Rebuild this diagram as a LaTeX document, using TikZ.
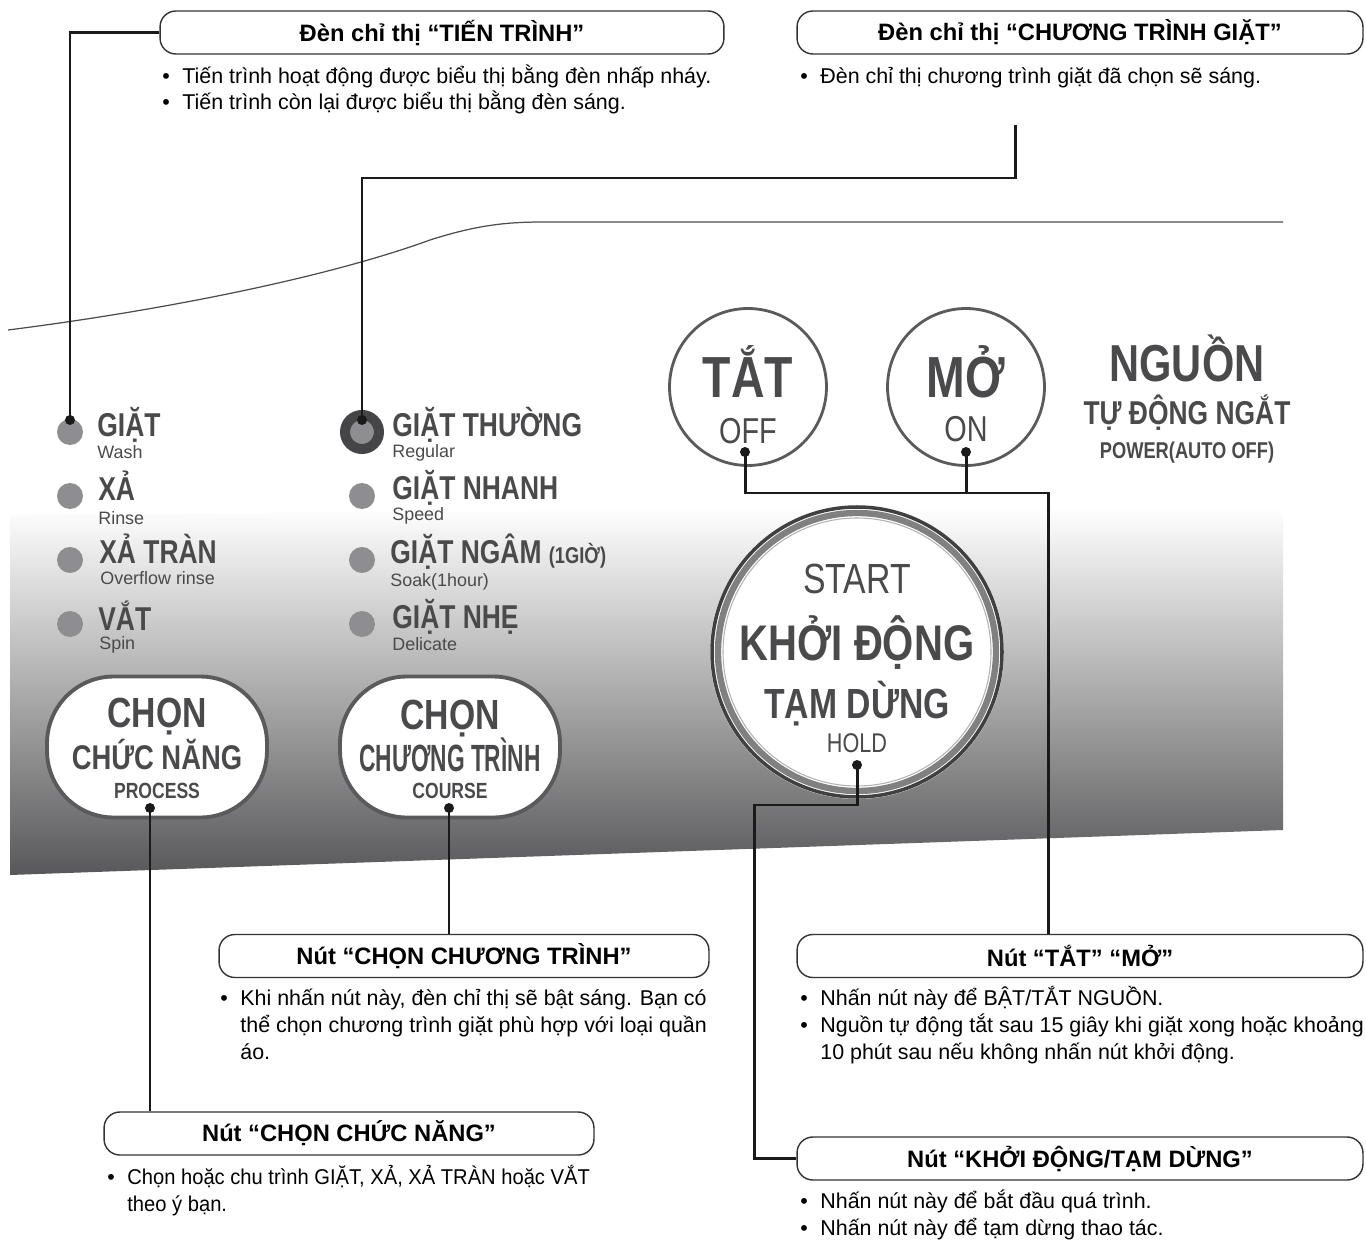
\documentclass[tikz,border=0pt]{standalone}
\usepackage{fontspec}
\setmainfont{Liberation Sans}
\newfontfamily\panelfont[FakeStretch=0.8]{Liberation Sans}
\newfontfamily\narrowfont[FakeStretch=0.94]{Liberation Sans}

\definecolor{paneltext}{HTML}{4A4A4C}
\definecolor{ledgray}{HTML}{8E8E90}
\definecolor{ringdark}{HTML}{454547}
\definecolor{panelbot}{HTML}{58585A}
\definecolor{btnedge}{HTML}{5A5A5C}
\definecolor{wirecol}{HTML}{1A1A1A}

\pgfdeclareverticalshading{panelshade}{100bp}{color(0bp)=(panelbot); color(25bp)=(panelbot);
  color(71.8bp)=(white); color(100bp)=(white)}

\newcommand\bul{\makebox[11.4pt][l]{\textbullet}}
\newcommand\bulgap{\hspace*{11.4pt}}

\tikzset{
  wire/.style={draw=wirecol, line width=1.7pt},
  notebox/.style={draw=black!80, fill=white, line width=0.8pt, rounded corners=9pt,
    minimum width=#1, minimum height=0.86cm, inner sep=0pt,
    font=\bfseries\fontsize{13.5}{15}\selectfont},
  notetext/.style={anchor=base west, align=left, inner sep=0pt,
    font=\fontsize{12.2}{15.1}\selectfont},
  led/.style={circle, fill=ledgray, minimum size=0.52cm, inner sep=0pt},
  ledsel/.style={circle, draw=ringdark, line width=5.7pt, fill=ledgray,
    minimum size=0.68cm, inner sep=0pt},
  ledmain/.style={anchor=base west, inner sep=0pt, text=paneltext,
    font=\panelfont\bfseries\fontsize{18.8}{20}\selectfont},
  ledsub/.style={anchor=base west, inner sep=0pt, text=paneltext,
    font=\fontsize{10.2}{12}\selectfont},
  selbtn/.style={draw=btnedge, fill=white, line width=2.2pt, rounded corners=38pt,
    minimum width=4.4cm, minimum height=2.82cm},
  pwrbtn/.style={circle, draw=btnedge, fill=white, line width=1.6pt, minimum size=3.14cm},
  ptxt/.style={anchor=base, inner sep=0pt, text=paneltext,
    font=\panelfont\bfseries\fontsize{#1}{#1}\selectfont},
  ptxtr/.style={anchor=base, inner sep=0pt, text=paneltext,
    font=\panelfont\fontsize{#1}{#1}\selectfont},
}

\begin{document}
\begin{tikzpicture}[x=0.02cm, y=-0.02cm]
\useasboundingbox (0,0) rectangle (1366,1240);

% mặt bảng điều khiển
\shade[shading=panelshade] (10,515) -- (935,507) -- (935,482) -- (1283,482)
  -- (1283,830) -- (10,875) -- cycle;
\draw[draw=black!70, line width=0.7pt] (8,330) .. controls (150,312) and (320,280) .. (430,240)
  .. controls (480,224) and (510,222) .. (545,222) -- (1283,222);

% đèn chỉ thị tiến trình
\node[led] (ledWash) at (70,432) {};
\node[led] (ledRinse) at (70,496) {};
\node[led] (ledOverflow) at (70,560) {};
\node[led] (ledSpin) at (70,624) {};
\node[ledmain] (lblWash) at (97,436) {GIẶT};
\node[ledsub] (subWash) at (97,458) {Wash};
\node[ledmain] (lblRinse) at (98,500) {XẢ};
\node[ledsub] (subRinse) at (98,524) {Rinse};
\node[ledmain] (lblOverflow) at (99,563) {XẢ TRÀN};
\node[ledsub] (subOverflow) at (100,584) {Overflow rinse};
\node[ledmain] (lblSpin) at (98,630) {VẮT};
\node[ledsub] (subSpin) at (99,649) {Spin};

% đèn chỉ thị chương trình giặt
\node[ledsel] (ledRegular) at (362,432) {};
\node[led] (ledSpeed) at (362,496) {};
\node[led] (ledSoak) at (362,560) {};
\node[led] (ledDelicate) at (362,624) {};
\node[ledmain] (lblRegular) at (392,436) {GIẶT THƯỜNG};
\node[ledsub] (subRegular) at (392,457) {Regular};
\node[ledmain] (lblSpeed) at (392,499) {GIẶT NHANH};
\node[ledsub] (subSpeed) at (392,520) {Speed};
\node[ledmain] (lblSoak) at (390,563) {GIẶT NGÂM {\fontsize{13}{13}\selectfont(1GIỜ)}};
\node[ledsub] (subSoak) at (390,586) {Soak(1hour)};
\node[ledmain] (lblDelicate) at (392,628) {GIẶT NHẸ};
\node[ledsub] (subDelicate) at (392,650) {Delicate};

% nút chọn
\node[selbtn] (btnProcess) at (157,747) {};
\node[ptxt=24] (txtProcess1) at (157,727) {CHỌN};
\node[ptxt=19.5] (txtProcess2) at (157,769) {CHỨC NĂNG};
\node[ptxt=12.5] (txtProcess3) at (157,798) {PROCESS};
\node[selbtn] (btnCourse) at (450,747) {};
\node[ptxt=24] (txtCourse1) at (450,729) {CHỌN};
\node[ptxt=21.6] (txtCourse2) at (450,771) {\scalebox{0.75}[1]{CHƯƠNG TRÌNH}};
\node[ptxt=12.5] (txtCourse3) at (450,798) {COURSE};

% nút nguồn
\node[pwrbtn] (btnOff) at (748,387) {};
\node[ptxt=33] (txtOff1) at (748,397) {TẮT};
\node[ptxtr=20.5] (txtOff2) at (748,443) {OFF};
\node[pwrbtn] (btnOn) at (966,387) {};
\node[ptxt=33] (txtOn1) at (966,397) {MỞ};
\node[ptxtr=20.5] (txtOn2) at (966,441) {ON};
\node[ptxt=29.6] (txtPower1) at (1187,381) {NGUỒN};
\node[ptxt=18.8] (txtPower2) at (1187,424) {TỰ ĐỘNG NGẮT};
\node[ptxt=13] (txtPower3) at (1187,458) {POWER(AUTO OFF)};

% nút khởi động
\node[circle, fill=white, minimum size=5.88cm] (btnStart) at (857,652) {};
\draw[line width=2pt, draw=black!75] (btnStart.center) circle (145);
\draw[line width=3.6pt, draw=black!50] (btnStart.center) circle (139);
\draw[line width=0.6pt, draw=black!30] (btnStart.center) circle (134);
\node[ptxtr=24] (txtStart1) at (857,593) {START};
\node[ptxt=28.5] (txtStart2) at (857,660) {KHỞI ĐỘNG};
\node[ptxt=24] (txtStart3) at (857,718) {TẠM DỪNG};
\node[ptxtr=15.4] (txtStart4) at (857,752) {HOLD};

% khung chú thích
\node[notebox=11.28cm] (boxTienTrinh) at (442,32.5) {Đèn chỉ thị “TIẾN TRÌNH”};
\node[notetext] (noteTienTrinh) at (162,110) {\bul Tiến trình hoạt động được biểu thị bằng đèn nhấp nháy.\\
  \bul Tiến trình còn lại được biểu thị bằng đèn sáng.};
\node[notebox=11.32cm] (boxCtGiat) at (1080,32.5) {Đèn chỉ thị “CHƯƠNG TRÌNH GIẶT”};
\node[notetext] (noteCtGiat) at (800,84) {\bul Đèn chỉ thị chương trình giặt đã chọn sẽ sáng.};
\node[notebox=9.8cm] (boxChuongTrinh) at (464,956) {Nút “CHỌN CHƯƠNG TRÌNH”};
\node[notetext] (noteChuongTrinh) at (220,1059) {\bul Khi nhấn nút này, đèn chỉ thị sẽ bật sáng. Bạn có\\
  \bulgap thể chọn chương trình giặt phù hợp với loại quần\\
  \bulgap áo.};
\node[notebox=11.32cm] (boxTatMo) at (1080,956) {Nút “TẮT” “MỞ”};
\node[notetext] (noteTatMo) at (800,1059) {\bul Nhấn nút này để BẬT/TẮT NGUỒN.\\
  \bul Nguồn tự động tắt sau 15 giây khi giặt xong hoặc khoảng\\
  \bulgap 10 phút sau nếu không nhấn nút khởi động.};
\node[notebox=9.8cm] (boxChucNang) at (349,1133.5) {Nút “CHỌN CHỨC NĂNG”};
\node[notetext] (noteChucNang) at (107,1211) {\bul {\narrowfont Chọn hoặc chu trình GIẶT, XẢ, XẢ TRÀN hoặc VẮT}\\
  \bulgap {\narrowfont theo ý bạn.}};
\node[notebox=11.32cm] (boxKhoiDong) at (1080,1158.5) {Nút “KHỞI ĐỘNG/TẠM DỪNG”};
\node[notetext] (noteKhoiDong) at (800,1235) {\bul Nhấn nút này để bắt đầu quá trình.\\
  \bul Nhấn nút này để tạm dừng thao tác.};

% điểm nối
\coordinate (dotWash) at (70,420);
\coordinate (dotRegular) at (362,420);
\coordinate (dotOff) at (745,452);
\coordinate (dotOn) at (966,452);
\coordinate (dotHold) at (857,765);
\coordinate (dotProcess) at (150,808);
\coordinate (dotCourse) at (449,808);
\coordinate (startProg) at (1015,125);
\coordinate (bendProg) at (362,178);
\coordinate (bendPower) at (1048,493);
\coordinate (bendHold) at (754,805);

% đường dẫn
\draw[wire] (boxTienTrinh.west) -| (dotWash);
\draw[wire] (startProg) |- (bendProg) -- (dotRegular);
\draw[wire] (dotOff) |- (bendPower) -- (bendPower |- boxTatMo.north);
\draw[wire] (dotOn) -- (dotOn |- bendPower);
\draw[wire] (dotHold) |- (bendHold) |- (boxKhoiDong.west);
\draw[wire] (dotProcess) -- (dotProcess |- boxChucNang.north);
\draw[wire] (dotCourse) -- (dotCourse |- boxChuongTrinh.north);
\foreach \d in {dotWash,dotRegular,dotOff,dotOn,dotHold,dotProcess,dotCourse}
  \fill[wirecol] (\d) circle (5);
\end{tikzpicture}
\end{document}
